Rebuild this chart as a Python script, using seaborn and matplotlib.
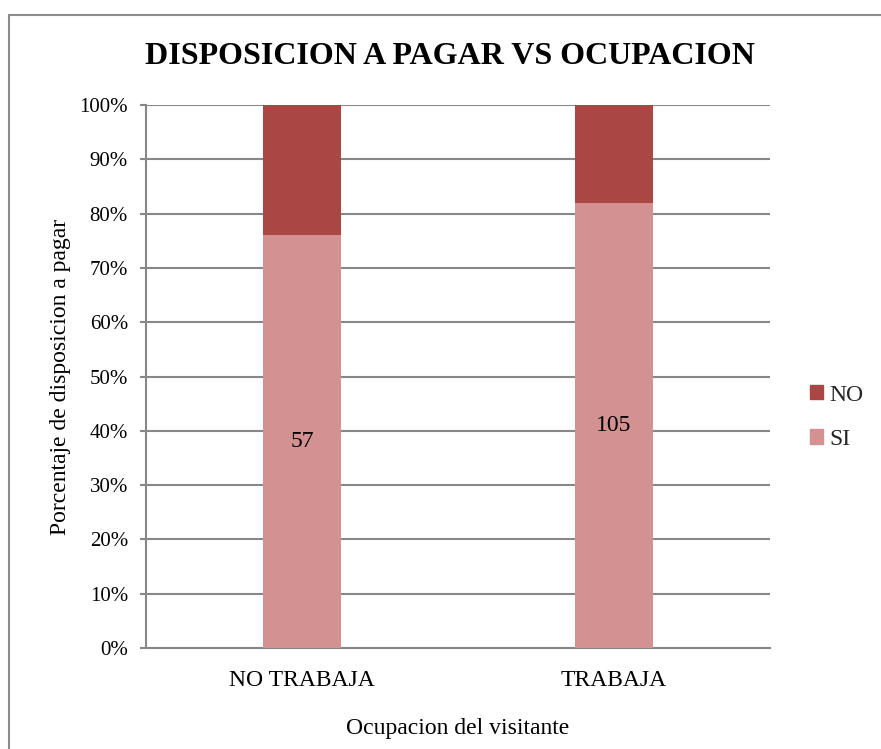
import matplotlib
matplotlib.use("Agg")
import matplotlib.pyplot as plt
import matplotlib.patches as mpatches
import seaborn as sns
import pandas as pd

# Survey counts per occupation group
ocupacion = ["NO TRABAJA", "TRABAJA"]
si_counts = [57, 105]
no_counts = [18, 23]

sns.set_theme(style="white")
plt.rcParams["font.family"] = ["Liberation Serif", "DejaVu Serif"]

total = [s + n for s, n in zip(si_counts, no_counts)]
df = pd.DataFrame({
    "ocupacion": ocupacion,
    "si_pct": [s / t * 100 for s, t in zip(si_counts, total)],
    "total_pct": [100.0 for _ in total],
    "si": si_counts,
})

color_no = "#A94745"
color_si = "#D39192"
grid_color = "#878787"

fig = plt.figure(figsize=(8.81, 7.49), dpi=100)
ax = fig.add_axes([0.1657, 0.1348, 0.7083, 0.725])

# Stacked 100% bars: full height in the "NO" colour, "SI" share drawn over it
sns.barplot(data=df, x="ocupacion", y="total_pct", color=color_no, width=0.25,
            saturation=1, linewidth=0, ax=ax, zorder=3)
sns.barplot(data=df, x="ocupacion", y="si_pct", color=color_si, width=0.25,
            saturation=1, linewidth=0, ax=ax, zorder=3)

# Count labels centred in the "SI" segment
for i, row in df.iterrows():
    ax.text(i, row["si_pct"] / 2, f"{row['si']}", ha="center", va="center",
            fontsize=17, color="black", zorder=5)

ax.set_xlim(-0.5, 1.5)
ax.set_ylim(0, 100)
ax.set_yticks(range(0, 101, 10))
ax.set_yticklabels([f"{v}%" for v in range(0, 101, 10)])
ax.yaxis.grid(True, color=grid_color, linewidth=1.5, zorder=0)
ax.set_axisbelow(True)

for side in ["top", "right"]:
    ax.spines[side].set_visible(False)
for side in ["left", "bottom"]:
    ax.spines[side].set_color(grid_color)
    ax.spines[side].set_linewidth(1.5)

ax.tick_params(axis="y", which="major", left=True, length=4.5, width=1.5,
               color=grid_color, labelsize=15, pad=8.5, labelcolor="black")
ax.tick_params(axis="x", bottom=False, labelsize=17, pad=10, labelcolor="black")

ax.set_xlabel("Ocupacion del visitante", fontsize=17, labelpad=19, color="black")
ax.set_ylabel("Porcentaje de disposicion a pagar", fontsize=17, labelpad=6,
              color="black")

fig.text(0.511, 0.925, "DISPOSICION A PAGAR VS OCUPACION", ha="center",
         va="center", fontsize=23, fontweight="bold", color="black")

# Legend on the right
handles = [mpatches.Patch(color=color_no, label="NO"),
           mpatches.Patch(color=color_si, label="SI")]
leg = fig.legend(handles=handles, loc="center left",
                 bbox_to_anchor=(0.919, 0.443), frameon=False, fontsize=17,
                 handlelength=0.55, handleheight=0.55, handletextpad=0.3,
                 labelspacing=0.98, borderpad=0, borderaxespad=0)

# Outer chart frame
frame = mpatches.Rectangle((9 / 881, -0.1), 1.2, (734 / 749) + 0.1,
                           transform=fig.transFigure, fill=False,
                           edgecolor="#8c8c8c", linewidth=1.5)
fig.patches.append(frame)

fig.savefig("out.png", dpi=100, facecolor="white")
